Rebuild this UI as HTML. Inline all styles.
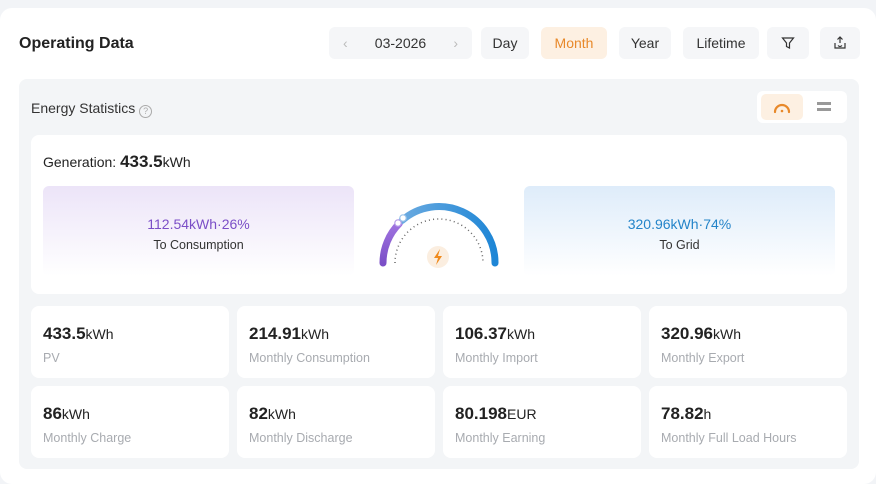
<!DOCTYPE html>
<html><head><meta charset="utf-8"><style>
*{box-sizing:border-box;margin:0;padding:0}
body{width:876px;height:484px;background:#f2f4f7;font-family:"Liberation Sans",sans-serif;position:relative;overflow:hidden;color:#222}
.card{position:absolute;left:0;top:8px;width:876px;height:476px;background:#fff;border-radius:12px}
.abs{position:absolute}
.btn{position:absolute;top:27px;height:32px;background:#f5f6f8;border-radius:6px;font-size:14px;color:#333;display:flex;align-items:center;justify-content:center}
.panel{position:absolute;left:19px;top:79px;width:840px;height:390px;background:#f3f5f7;border-radius:8px}
.stat{position:absolute;width:198px;height:72px;background:#fff;border-radius:8px}
.stat .v{position:absolute;left:12px;top:18px;font-size:17px;font-weight:bold;color:#222}
.stat .v span{font-size:14px;font-weight:normal}
.stat .l{position:absolute;left:12px;top:45px;font-size:12.5px;color:#a8abb0}
</style></head><body>
<div class="card"></div>
<div class="abs" style="left:19px;top:35px;font-size:16px;font-weight:bold;color:#222">Operating Data</div>
<div class="btn" style="left:329px;width:143px;justify-content:space-between;padding:0 14px"><span style="color:#bbb">‹</span><span>03-2026</span><span style="color:#bbb">›</span></div>
<div class="btn" style="left:481px;width:48px">Day</div>
<div class="btn" style="left:541px;width:66px;background:#fdf0e2;color:#e8892a">Month</div>
<div class="btn" style="left:619px;width:52px">Year</div>
<div class="btn" style="left:683px;width:76px">Lifetime</div>
<div class="btn" style="left:767px;width:42px"><svg width="14" height="14" viewBox="0 0 14 14"><path d="M1.5 2h11L8.5 7v5l-3-1.5V7z" fill="none" stroke="#333" stroke-width="1.2"/></svg></div>
<div class="btn" style="left:820px;width:40px"><svg width="14" height="14" viewBox="0 0 14 14"><path d="M7 1v6M4.5 3.5L7 1l2.5 2.5M2 7v5h10V7M5 9.5q2 2 4 0" fill="none" stroke="#333" stroke-width="1.2"/></svg></div>
<div class="panel"></div>
<div class="abs" style="left:31px;top:100px;font-size:14px;color:#333">Energy Statistics <span style="display:inline-block;width:13px;height:13px;border:1px solid #aaa;border-radius:50%;font-size:9px;color:#aaa;text-align:center;line-height:11px;vertical-align:-1px">?</span></div>
<div class="abs" style="left:757px;top:91px;width:90px;height:32px;background:#fff;border-radius:6px"></div>
<div class="abs" style="left:761px;top:94px;width:42px;height:26px;background:#fdf0e2;border-radius:5px"></div>
<svg class="abs" style="left:770px;top:98px" width="24" height="18"><path d="M5 14A7 7 0 0 1 19 14" fill="none" stroke="#e8892a" stroke-width="2.2" stroke-linecap="round"/><circle cx="12" cy="13" r="1.3" fill="#e8892a"/></svg>
<div class="abs" style="left:817px;top:102px;width:14px;height:3px;background:#999"></div>
<div class="abs" style="left:817px;top:108px;width:14px;height:3px;background:#999"></div>
<div class="abs" style="left:31px;top:135px;width:816px;height:159px;background:#fff;border-radius:8px"></div>
<div class="abs" style="left:43px;top:152px;font-size:14px;color:#222">Generation: <b style="font-size:17px">433.5</b>kWh</div>
<div class="abs" style="left:43px;top:186px;width:311px;height:90px;border-radius:6px;background:linear-gradient(#ece4f8,#fff);text-align:center">
<div style="margin-top:30px;font-size:14px;color:#7b4fc7">112.54kWh·26%</div><div style="margin-top:6px;font-size:12.5px;color:#333">To Consumption</div></div>
<div class="abs" style="left:524px;top:186px;width:311px;height:90px;border-radius:6px;background:linear-gradient(#deecfa,#fff);text-align:center">
<div style="margin-top:30px;font-size:14px;color:#2484c9">320.96kWh·74%</div><div style="margin-top:6px;font-size:12.5px;color:#333">To Grid</div></div>
<svg class="abs" style="left:370px;top:190px" width="140" height="90">
<defs><linearGradient id="g" x1="0" x2="1"><stop offset="0" stop-color="#6aaae0"/><stop offset="1" stop-color="#1e86d6"/></linearGradient>
<linearGradient id="p" x1="0" y1="0" x2="0" y2="1"><stop offset="0" stop-color="#a074e0"/><stop offset="1" stop-color="#7b4fc7"/></linearGradient></defs>
<path d="M13 73A56 56 0 0 1 29.4 33.4" fill="none" stroke="url(#p)" stroke-width="7" stroke-linecap="round"/>
<path d="M32 30.5A56 56 0 0 1 125 73" fill="none" stroke="url(#g)" stroke-width="7" stroke-linecap="round"/>
<circle cx="28" cy="33" r="3.2" fill="#fff" stroke="#b79ee8" stroke-width="1.2"/>
<circle cx="33" cy="28" r="3.2" fill="#fff" stroke="#9cc4ea" stroke-width="1.2"/>
<path d="M25 73A44 44 0 0 1 113 73" fill="none" stroke="#666" stroke-width="1.5" stroke-dasharray="1 3.2"/>
<circle cx="68" cy="67" r="11" fill="#fbeee0"/>
<path d="M70 59l-6 9h4l-2 7 6-9h-4z" fill="#f08a1c"/>
</svg>
<div class="stat" style="left:31px;top:306px"><div class="v">433.5<span>kWh</span></div><div class="l">PV</div></div>
<div class="stat" style="left:237px;top:306px"><div class="v">214.91<span>kWh</span></div><div class="l">Monthly Consumption</div></div>
<div class="stat" style="left:443px;top:306px"><div class="v">106.37<span>kWh</span></div><div class="l">Monthly Import</div></div>
<div class="stat" style="left:649px;top:306px"><div class="v">320.96<span>kWh</span></div><div class="l">Monthly Export</div></div>
<div class="stat" style="left:31px;top:386px"><div class="v">86<span>kWh</span></div><div class="l">Monthly Charge</div></div>
<div class="stat" style="left:237px;top:386px"><div class="v">82<span>kWh</span></div><div class="l">Monthly Discharge</div></div>
<div class="stat" style="left:443px;top:386px"><div class="v">80.198<span>EUR</span></div><div class="l">Monthly Earning</div></div>
<div class="stat" style="left:649px;top:386px"><div class="v">78.82<span>h</span></div><div class="l">Monthly Full Load Hours</div></div>
</body></html>
